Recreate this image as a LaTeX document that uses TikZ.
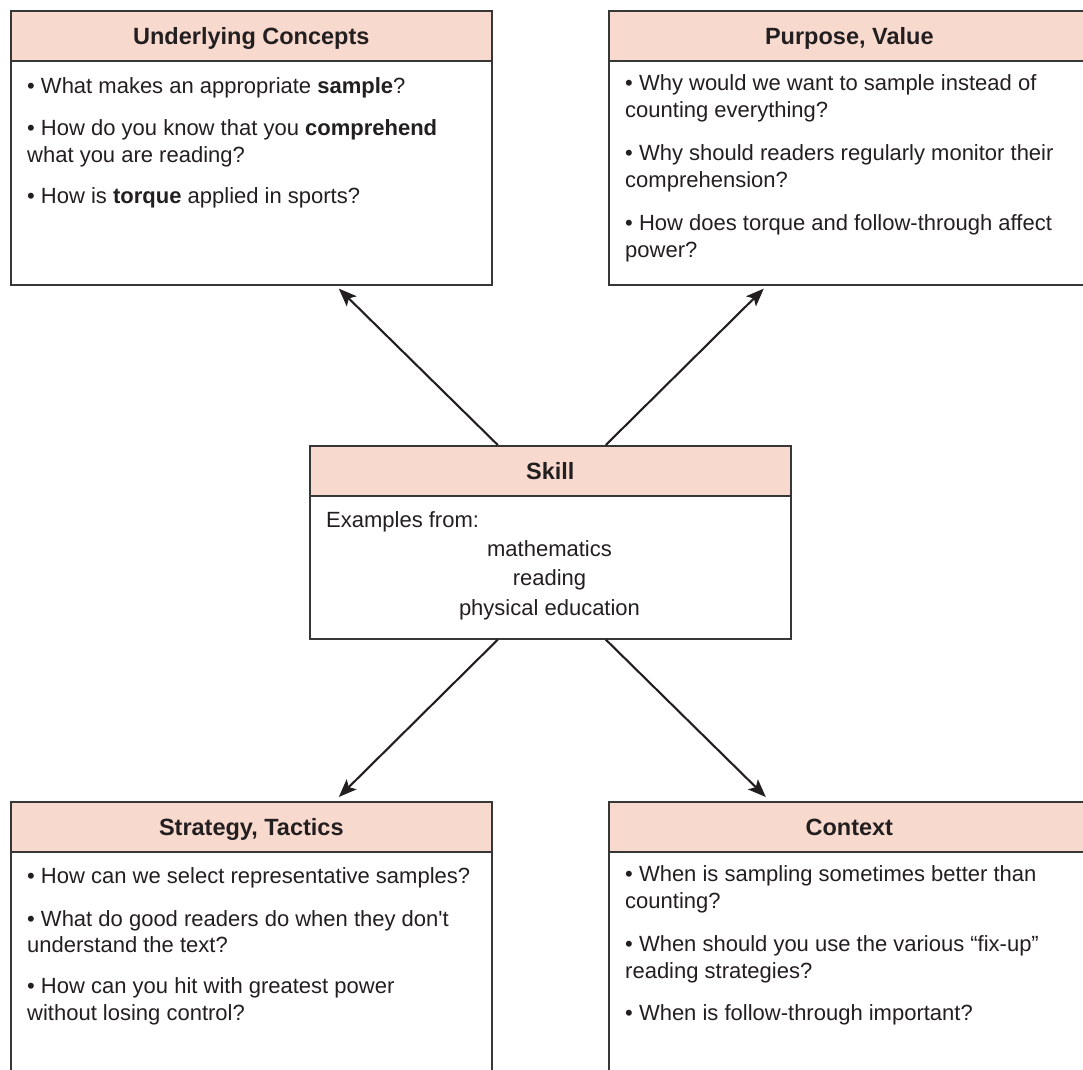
\documentclass[tikz,border=0pt]{standalone}
\usepackage{fontspec}
\newfontfamily\helv{Liberation Sans}
\usetikzlibrary{arrows.meta}
\definecolor{hdrfill}{RGB}{248,217,206}
\definecolor{ink}{RGB}{35,31,32}
\definecolor{edge}{RGB}{55,55,55}
\tikzset{
  boxframe/.style={draw=edge, line width=1.6pt, fill=white, minimum width=481pt, inner sep=0pt, anchor=north west},
  hdr/.style={draw=edge, line width=1.6pt, fill=hdrfill, minimum width=481pt, minimum height=50pt, inner sep=0pt, anchor=north west,
    font={\helv\bfseries\fontsize{23.5}{28}\selectfont}, text=ink, text height=17pt, text depth=0pt},
  body/.style={anchor=base west, inner sep=0pt, align=left, text=ink, font={\helv\fontsize{22}{26.5}\selectfont}},
  skl/.style={inner sep=0pt, text=ink, font={\helv\fontsize{22}{29.5}\selectfont}},
  arr/.style={draw=ink, line width=2.1pt, -{Stealth[length=18pt,width=14pt,inset=4pt]}}
}
\begin{document}
\begin{tikzpicture}[x=1pt,y=-1pt]
\useasboundingbox (0,0) rectangle (1083,1069);
\clip (0,0) rectangle (1083,1069);
% Underlying Concepts
\node[boxframe, minimum height=274pt] (ul) at (10,10) {};
\node[hdr] (ulh) at (10,10) {Underlying Concepts};
\node[body] (ult) at (27,203) {• What makes an appropriate {\bfseries sample}?\\[16pt]
• How do you know that you {\bfseries comprehend}\\ what you are reading?\\[14.5pt]
• How is {\bfseries torque} applied in sports?};
% Purpose, Value
\node[boxframe, minimum height=274pt] (ur) at (608,10) {};
\node[hdr] (urh) at (608,10) {Purpose, Value};
\node[body] (urt) at (625,257) {• Why would we want to sample instead of\\ counting everything?\\[17pt]
• Why should readers regularly monitor their\\ comprehension?\\[17pt]
• How does torque and follow-through affect\\ power?};
% Skill
\node[boxframe, minimum height=193pt] (sk) at (309,445) {};
\node[hdr] (skh) at (309,445) {Skill};
\node[skl, anchor=base west] (ske) at (326,527) {Examples from:};
\node[skl, anchor=base, align=center] (skl) at (549.5,615) {mathematics\\ reading\\ physical education};
% Strategy, Tactics
\node[boxframe, minimum height=300pt] (bl) at (10,801) {};
\node[hdr] (blh) at (10,801) {Strategy, Tactics};
\node[body] (blt) at (27,1020) {• How can we select representative samples?\\[16pt]
• What do good readers do when they don't\\ understand the text?\\[14.5pt]
• How can you hit with greatest power\\ without losing control?};
% Context
\node[boxframe, minimum height=300pt] (br) at (608,801) {};
\node[hdr] (brh) at (608,801) {Context};
\node[body] (brt) at (625,1020) {• When is sampling sometimes better than\\ counting?\\[17pt]
• When should you use the various “fix-up”\\ reading strategies?\\[15.5pt]
• When is follow-through important?};
% arrows
\draw[arr] ([xshift=-52.5pt]sk.north) -- ([xshift=87.5pt,yshift=-3pt]ul.south);
\draw[arr] ([xshift=55.5pt]sk.north) -- ([xshift=-85.5pt,yshift=-3pt]ur.south);
\draw[arr] ([xshift=-52.5pt]sk.south) -- ([xshift=87.5pt,yshift=4pt]blh.north);
\draw[arr] ([xshift=55.5pt]sk.south) -- ([xshift=-83.5pt,yshift=4pt]brh.north);
\end{tikzpicture}
\end{document}
